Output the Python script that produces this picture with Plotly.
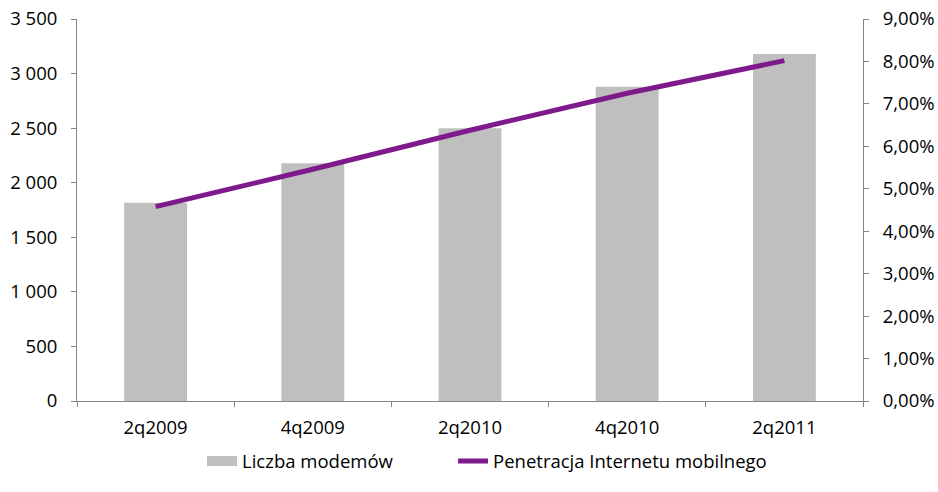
import plotly.graph_objects as go

categories = ["2q2009", "4q2009", "2q2010", "4q2010", "2q2011"]
modems = [1817, 2178, 2499, 2880, 3179]
penetration = [0.0458, 0.0546, 0.0638, 0.0725, 0.0802]
left_ticks = [0, 500, 1000, 1500, 2000, 2500, 3000, 3500]
right_ticks = [0, 0.01, 0.02, 0.03, 0.04, 0.05, 0.06, 0.07, 0.08, 0.09]

font_family = "Open Sans, Noto Sans, sans-serif"
axis_color = "#868686"
bar_color = "#BFBFBF"
line_color = "#7E1A8C"
fsize = 18.5

fig = go.Figure()
fig.add_trace(go.Bar(
    x=categories, y=modems, name="Liczba modemów",
    marker=dict(color=bar_color, line=dict(width=0)),
    width=0.4, showlegend=False,
))
# legend entry for bars (wide rectangle swatch like the reference)
fig.add_trace(go.Scatter(
    x=[None], y=[None], name="Liczba modemów", mode="lines",
    line=dict(color=bar_color, width=14), showlegend=True, legend="legend",
))
fig.add_trace(go.Scatter(
    x=categories, y=penetration, name="Penetracja Internetu mobilnego",
    mode="lines", line=dict(color=line_color, width=5),
    yaxis="y2", legend="legend2",
))

legend_common = dict(orientation="h", xanchor="left", xref="container",
                     y=0.062, yanchor="middle", yref="container",
                     font=dict(size=fsize), itemwidth=30,
                     bgcolor="rgba(0,0,0,0)")

fig.update_layout(
    width=938, height=492,
    margin=dict(l=77, r=75, t=19, b=91, autoexpand=False),
    paper_bgcolor="white", plot_bgcolor="white",
    separators=", ",
    font=dict(family=font_family, size=fsize, color="#000000"),
    showlegend=True,
    legend=dict(x=0.2154, **legend_common),
    legend2=dict(x=0.483, **legend_common),
    xaxis=dict(
        type="category", showgrid=False, showline=True, linecolor=axis_color, linewidth=1,
        ticks="outside", tickson="boundaries", ticklen=5, tickcolor=axis_color,
        range=[-0.5, 4.5], automargin=False, ticklabelstandoff=10,
    ),
    yaxis=dict(
        range=[0, 3500], tickvals=left_ticks, tickformat=",d", showgrid=False,
        showline=True, linecolor=axis_color, linewidth=1,
        ticks="outside", ticklen=5, tickcolor=axis_color, zeroline=False, automargin=False,
        ticklabelstandoff=10,
    ),
    yaxis2=dict(
        range=[0, 0.09], tickvals=right_ticks, tickformat=".2%", overlaying="y", side="right",
        showgrid=False, showline=True, linecolor=axis_color, linewidth=1,
        ticks="outside", ticklen=5, tickcolor=axis_color, zeroline=False, automargin=False,
        ticklabelstandoff=10,
    ),
    bargap=0.6,
)

fig.write_html("out.html")
